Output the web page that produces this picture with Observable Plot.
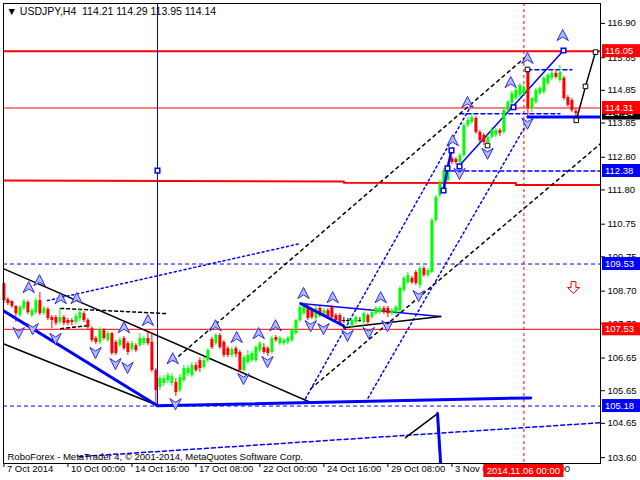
<!DOCTYPE html>
<html><head><meta charset="utf-8">
<script src="https://cdn.jsdelivr.net/npm/d3@7"></script>
<script src="https://cdn.jsdelivr.net/npm/@observablehq/plot@0.6"></script>
<style>
html,body{margin:0;padding:0;background:#fff;}
#chart{width:640px;height:480px;overflow:hidden;}
</style></head><body><div id="chart"></div>
<script>
// ---- candle data (H4 bars, index 0 = 7 Oct 2014 08:00) ----
const opens = [108.93,108.44,108.38,108.23,107.95,108.17,108.35,107.95,108.04,108.41,108.01,108.14,107.89,107.89,107.74,107.89,107.80,107.80,107.74,107.86,108.01,107.80,107.55,107.25,107.13,107.49,107.19,107.40,107.13,107.03,107.25,107.09,106.91,107.03,107.03,107.09,107.25,107.13,106.27,105.75,105.87,105.96,105.87,105.90,105.65,105.96,106.17,106.11,106.42,106.57,106.36,106.57,107.22,107.09,107.34,107.13,106.94,106.73,106.94,106.82,106.27,106.51,106.57,106.57,106.88,106.97,106.94,106.82,107.28,107.09,107.09,107.13,107.19,107.40,107.80,108.01,108.23,108.10,107.86,108.17,107.95,108.10,108.20,107.95,107.95,107.80,107.80,107.64,107.74,107.80,107.74,107.95,107.89,108.01,108.04,108.17,108.17,108.01,108.04,108.10,108.72,108.96,109.09,109.27,108.87,109.39,109.18,109.27,110.86,111.63,112.00,112.09,112.76,112.73,112.64,112.85,113.77,113.87,113.99,113.56,113.47,113.25,113.41,113.47,113.62,113.56,114.23,114.45,114.60,114.69,114.75,115.52,114.30,114.48,114.75,114.79,115.06,115.22,115.37,115.15,115.22,114.63,114.54,114.21];
const highs = [108.96,108.50,108.41,108.26,108.26,108.44,108.41,108.17,108.47,108.66,108.23,108.20,107.95,107.95,108.17,107.95,107.86,107.86,108.01,108.17,108.07,107.86,107.61,107.31,107.58,107.55,107.46,107.43,107.19,107.28,107.31,107.16,107.16,107.09,107.40,107.31,107.43,107.43,106.33,106.11,106.11,106.20,106.17,106.02,106.14,106.42,106.42,106.51,106.51,106.66,106.66,106.94,107.28,107.40,107.40,107.19,107.00,107.00,107.00,106.88,106.73,106.88,106.85,107.03,107.16,107.09,107.00,107.31,107.34,107.31,107.25,107.31,107.55,107.83,108.26,108.35,108.29,108.17,108.23,108.23,108.17,108.17,108.26,108.01,108.01,107.89,107.86,107.86,107.95,107.89,108.07,108.01,108.10,108.23,108.23,108.23,108.23,108.17,108.26,108.84,109.15,109.27,109.15,109.33,109.45,109.45,109.39,110.93,111.63,112.09,112.46,112.55,112.82,112.79,112.92,113.84,114.02,114.14,114.05,113.62,113.53,113.47,113.71,113.68,113.68,114.30,114.54,114.82,114.91,115.06,115.00,115.52,114.63,114.91,114.97,115.28,115.37,115.43,115.43,115.61,115.28,114.69,114.60,114.29];
const lows = [108.32,108.26,108.17,107.74,107.89,108.10,107.98,107.89,107.98,107.95,107.95,107.80,107.55,107.64,107.68,107.64,107.64,107.64,107.68,107.77,107.74,107.52,107.13,107.06,107.06,107.19,107.13,106.73,106.73,106.97,106.88,106.73,106.85,106.82,106.97,107.03,107.03,106.21,105.19,105.65,105.78,105.87,105.78,105.47,105.59,105.90,106.08,106.05,106.21,106.21,106.30,106.51,106.91,107.03,106.91,106.66,106.66,106.66,106.66,106.21,106.21,106.45,106.51,106.51,106.82,106.76,106.70,106.76,107.13,107.03,107.03,107.06,107.13,107.34,107.74,107.95,107.80,107.83,107.80,107.89,107.89,107.83,107.83,107.74,107.64,107.71,107.74,107.58,107.68,107.74,107.68,107.64,107.83,107.95,107.98,107.98,107.89,107.95,107.98,108.04,108.66,108.90,108.90,108.87,108.78,109.12,109.12,109.24,110.80,111.57,111.94,112.03,112.58,112.58,112.58,112.79,113.71,113.81,113.50,113.25,113.16,113.16,113.35,113.41,113.44,113.50,114.17,114.39,114.54,114.63,114.69,114.02,114.17,114.42,114.69,114.72,115.00,115.15,115.19,115.09,114.54,114.33,114.17,113.95];
const closes = [108.41,108.32,108.23,108.01,108.20,108.38,108.04,108.10,108.41,108.01,108.17,107.86,107.80,107.71,107.89,107.71,107.71,107.74,107.92,108.04,107.80,107.58,107.19,107.13,107.52,107.25,107.40,106.79,106.79,107.19,106.94,106.82,107.09,106.88,107.25,107.25,107.09,106.27,105.65,106.02,106.02,106.11,106.08,105.59,106.05,106.33,106.33,106.42,106.27,106.33,106.57,106.88,106.97,107.34,106.97,106.73,106.73,106.91,106.76,106.27,106.66,106.73,106.79,106.97,107.09,106.82,106.79,107.25,107.19,107.25,107.19,107.25,107.49,107.80,108.20,108.26,107.86,107.89,108.17,107.95,108.10,107.89,107.89,107.80,107.71,107.80,107.80,107.80,107.89,107.80,108.01,107.74,108.04,108.17,108.17,108.04,108.01,108.10,108.20,108.78,109.09,109.18,108.96,108.93,109.39,109.18,109.33,110.86,111.57,112.00,112.39,112.46,112.64,112.64,112.85,113.77,113.93,114.02,113.56,113.31,113.25,113.41,113.62,113.62,113.53,114.23,114.48,114.75,114.85,115.00,114.94,114.30,114.60,114.85,114.91,115.22,115.31,115.37,115.25,115.40,114.60,114.39,114.23,114.14];

// ---- axis ticks ----
const yTicks = [116.90,115.85,114.85,113.85,112.80,111.80,110.75,109.75,108.70,107.70,106.65,105.65,104.65,103.60];
const xTickIdx = [0,16,32,48,64,80,96,112,128];
const xTickLabels = ["7 Oct 2014","10 Oct 00:00","14 Oct 16:00","17 Oct 08:00","22 Oct 00:00","24 Oct 16:00","29 Oct 08:00","3 Nov 00:00","5 Nov 16:00"];

// ---- horizontal levels ----
const redThickLevels = [116.05];
const redThinLevels = [114.31, 107.53];
const blueDashLevels = [109.53, 105.18];

// ---- drawn objects: [barIndex, price] ----
const redStepLine = [[-1,112.09],[85,112.06],[85,112.02],[128,112.01],[128,111.95],[150,111.95]];
const blueDash112 = [[110,112.38],[150,112.38]];
const blueThickDown = [[-0.1,108.10],[38.4,105.19]];
const blueThickBottom = [[38.4,105.19],[131.7,105.43]];
const blackChanTop = [[0,109.38],[76.7,105.29]];
const blackChanBot = [[0,107.08],[37.4,105.25]];
const blackDashA = [[42.4,106.57],[130.9,115.92]];
const blackDashB = [[76.7,105.71],[149.2,113.22]];
const blueDotA = [[75.4,105.41],[116.7,114.36]];
const blueDotB = [[90.4,105.29],[130.9,113.87]];
const blueDotLeft = [[10.9,108.41],[74.2,110.16]];
const blueChanThin = [[113.9,112.55],[139.9,116.07]];
const blueDashShort1 = [[114,114.13],[139,114.13]];
const blueDashShort2 = [[131,115.48],[142,115.48]];
const blueThickRight = [[131,114.03],[150,114.03]];
const blueDashBottom = [[18.7,103.63],[149.2,104.67]];
const triBlueThin = [[74.2,108.32],[109.2,107.92]];
const triBlueThick = [[74.2,108.32],[84.9,107.64]];
const triBlack = [[84.9,107.58],[109.2,107.92]];
const leftDash1 = [[14.2,108.17],[41,108.01]];
const leftDash2 = [[14.2,107.55],[20.9,107.64]];
const bottomBlack = [[100.4,104.21],[108.4,104.95]];
const bottomBlue = [[108.4,104.95],[109.4,103.0]];
const blueSquarePath = [[109.9,111.78],[110.9,112.46],[111.9,113.01]];
const forecastPath = [[143.1,113.93],[145.4,114.97],[147.9,116.02]];
const blueSquares = [[38.4,112.39],[109.9,111.78],[110.9,112.46],[111.9,113.01],[113.9,112.52],[127.4,114.33],[139.9,116.07]];
const blackSquares = [[120.9,113.16],[130.9,115.49],[143.1,113.93],[145.4,114.97],[147.9,116.02]];
const upArrows = [[8.9,109.02],[6.2,108.81],[14.2,108.47],[18.2,108.47],[30.0,107.58],[36.0,107.80],[42.2,106.63],[52.9,107.64],[58.2,107.28],[63.7,107.40],[67.9,107.64],[74.9,108.63],[82.2,108.50],[94.2,108.50],[112.2,113.31],[115.9,114.48],[126.7,115.09],[130.9,115.83],[139.7,116.53]];
const downArrows = [[3.7,107.43],[7.2,107.55],[12.9,107.25],[22.9,106.82],[27.9,106.48],[30.9,106.36],[42.9,105.25],[59.9,106.02],[65.9,106.54],[76.7,107.64],[79.9,107.55],[85.9,107.34],[91.2,107.43],[95.9,107.64],[103.7,108.56],[113.9,112.30],[120.9,112.92],[130.9,113.84]];
const redSignal = [[142.4,108.81]];
const blueVLine = 38.4;
const redVLine = 130;

// ---- right-side price boxes ----
const priceBoxes = [
  {v:114.14, fill:"#000000"},
  {v:116.05, fill:"#ff0000"},
  {v:114.31, fill:"#ff0000"},
  {v:112.38, fill:"#0000ff"},
  {v:109.53, fill:"#0000ff"},
  {v:107.53, fill:"#ff0000"},
  {v:105.18, fill:"#0000ff"}
];
const timeBox = {i:130, label:"2014.11.06 00:00"};

const bars = opens.map((o,i)=>({i, o, h:highs[i], l:lows[i], c:closes[i],
  col: closes[i]>opens[i] ? "#00ff00" : closes[i]<opens[i] ? "#ff0000" : "#000000"}));
const dojis = bars.filter(d=>d.o===d.c);
const bodies = bars.filter(d=>d.o!==d.c);

const pts = a => a.map(([i,p])=>({i,p}));
const arrowUp = {draw(ctx, size){const r=Math.sqrt(size/Math.PI);
  ctx.moveTo(0,-r); ctx.lineTo(r*0.95,r*0.85); ctx.lineTo(0,r*0.25); ctx.lineTo(-r*0.95,r*0.85); ctx.closePath();}};
const arrowDown = {draw(ctx, size){const r=Math.sqrt(size/Math.PI);
  ctx.moveTo(0,r); ctx.lineTo(r*0.95,-r*0.85); ctx.lineTo(0,-r*0.25); ctx.lineTo(-r*0.95,-r*0.85); ctx.closePath();}};
const hollowDown = {draw(ctx, size){const r=Math.sqrt(size/Math.PI);
  ctx.moveTo(-r*0.4,-r); ctx.lineTo(r*0.4,-r); ctx.lineTo(r*0.4,0); ctx.lineTo(r,0); ctx.lineTo(0,r); ctx.lineTo(-r,0); ctx.lineTo(-r*0.4,0); ctx.closePath();}};

const line = (a, o) => Plot.line(pts(a), {x:"i", y:"p", clip:true, ...o});
const BLUE = "#0000ff";
const FONT = "Tahoma, 'Liberation Sans', sans-serif";

const chart = Plot.plot({
  width: 640, height: 480,
  marginLeft: 3, marginRight: 40, marginTop: 3, marginBottom: 17,
  style: {fontFamily: FONT, fontSize: "9.5px", background: "#fff", color: "#000"},
  x: {domain: [-0.1, 149.15], axis: null, label: null},
  y: {domain: [103.42, 117.51], axis: null, label: null},
  marks: [
    // horizontal levels
    Plot.ruleY(blueDashLevels, {stroke: BLUE, strokeDasharray: "4,3"}),
    Plot.ruleY(redThinLevels, {stroke: "#ff0000", strokeWidth: 1}),
    Plot.ruleY(redThickLevels, {stroke: "#ff0000", strokeWidth: 2}),
    line(redStepLine, {stroke: "#ff0000", strokeWidth: 2}),
    line(blueDash112, {stroke: BLUE, strokeDasharray: "4,3"}),
    line(blueDashBottom, {stroke: BLUE, strokeDasharray: "4,3"}),
    // verticals
    Plot.ruleX([blueVLine], {y1: 105.19, y2: 117.6, stroke: BLUE, clip: true}),
    Plot.ruleX([redVLine], {stroke: "#ff0000", strokeDasharray: "3,3"}),
    // channels and trend lines
    line(blackChanTop, {stroke: "#000"}),
    line(blackChanBot, {stroke: "#000"}),
    line(blackDashA, {stroke: "#000", strokeDasharray: "3,4"}),
    line(blackDashB, {stroke: "#000", strokeDasharray: "3,4"}),
    line(leftDash1, {stroke: "#000", strokeDasharray: "3,3"}),
    line(leftDash2, {stroke: "#000", strokeDasharray: "3,3"}),
    line(blueDotA, {stroke: BLUE, strokeDasharray: "2,3"}),
    line(blueDotB, {stroke: BLUE, strokeDasharray: "2,3"}),
    line(blueDotLeft, {stroke: BLUE, strokeDasharray: "2,3"}),
    line(blueChanThin, {stroke: BLUE}),
    line(blueDashShort1, {stroke: BLUE, strokeDasharray: "4,3"}),
    line(blueDashShort2, {stroke: BLUE, strokeDasharray: "4,3"}),
    line(triBlueThin, {stroke: BLUE}),
    line(triBlack, {stroke: "#000", strokeWidth: 1.5}),
    line(bottomBlack, {stroke: "#000"}),
    // candles
    Plot.ruleX(bars, {x: "i", y1: "l", y2: "h", stroke: "col", strokeWidth: 1}),
    Plot.ruleX(bodies, {x: "i", y1: "o", y2: "c", stroke: "col", strokeWidth: 3, strokeLinecap: "butt"}),
    Plot.ruleY(dojis, {y: "o", x1: d=>d.i-0.4, x2: d=>d.i+0.4, stroke: "#000"}),
    // thick blue lines
    line(blueThickDown, {stroke: BLUE, strokeWidth: 3}),
    line(blueThickBottom, {stroke: BLUE, strokeWidth: 3}),
    line(triBlueThick, {stroke: BLUE, strokeWidth: 3}),
    line(bottomBlue, {stroke: BLUE, strokeWidth: 3}),
    line(blueThickRight, {stroke: BLUE, strokeWidth: 3}),
    line(blueSquarePath, {stroke: BLUE, strokeWidth: 2.5}),
    line(forecastPath, {stroke: "#000"}),
    // markers
    Plot.dot(pts(upArrows), {x:"i", y:"p", symbol: arrowUp, r: 6, fill: "#b4bcff", stroke: "#2a2ae0", strokeWidth: 1}),
    Plot.dot(pts(downArrows), {x:"i", y:"p", symbol: arrowDown, r: 6, fill: "#b4bcff", stroke: "#2a2ae0", strokeWidth: 1}),
    Plot.dot(pts(redSignal), {x:"i", y:"p", symbol: hollowDown, r: 6, fill: "none", stroke: "#ff0000", strokeWidth: 1}),
    Plot.dot(pts(blueSquares), {x:"i", y:"p", symbol: "square", r: 2.6, fill: "#fff", stroke: BLUE, strokeWidth: 1.5}),
    Plot.dot(pts(blackSquares), {x:"i", y:"p", symbol: "square", r: 2.6, fill: "#fff", stroke: "#000", strokeWidth: 1}),
    // frame & axes
    Plot.frame({stroke: "#000"}),
    Plot.axisY(yTicks, {anchor: "right", tickSize: 4, tickPadding: 3, label: null, tickFormat: d=>d.toFixed(2)}),
    Plot.axisX(xTickIdx, {anchor: "bottom", tickSize: 4, label: null, tickFormat: () => ""}),
    Plot.text(xTickIdx, {x: d=>d, text: (d,k)=>xTickLabels[k], frameAnchor: "bottom", dy: 8, dx: 3, textAnchor: "start"}),
    // texts
    Plot.text(["\u25BC USDJPY,H4\u00a0\u00a0114.21 114.29 113.95 114.14"], {frameAnchor: "top-left", dx: 3, dy: 4, textAnchor: "start", lineAnchor: "top", fontSize: 10.5}),
    Plot.text(["RoboForex - MetaTrader 4, \u00a9 2001-2014, MetaQuotes Software Corp."], {frameAnchor: "bottom-left", dx: 4, dy: -4, textAnchor: "start", lineAnchor: "bottom", fontSize: 9.5})
  ]
});

// price boxes on right axis and time box on bottom axis, positioned with Plot's scales
const sy = chart.scale("y"), sx = chart.scale("x");
const g = d3.select(chart).append("g").attr("font-family", FONT).attr("font-size", "9.5px").attr("text-anchor", "start");
for (const b of priceBoxes) {
  const y = sy.apply(b.v);
  g.append("rect").attr("x", 602).attr("y", y-6.5).attr("width", 38).attr("height", 13).attr("fill", b.fill);
  g.append("text").attr("x", 605).attr("y", y).attr("dy", "0.35em").attr("fill", "#fff").text(b.v.toFixed(2));
}
{
  const x = sx.apply(timeBox.i);
  g.append("rect").attr("x", x-40).attr("y", 464).attr("width", 80).attr("height", 13).attr("fill", "#ff0000");
  g.append("text").attr("x", x).attr("y", 470.5).attr("dy", "0.35em").attr("text-anchor", "middle").attr("fill", "#fff").text(timeBox.label);
}
document.getElementById("chart").appendChild(chart);
</script>
</body></html>
